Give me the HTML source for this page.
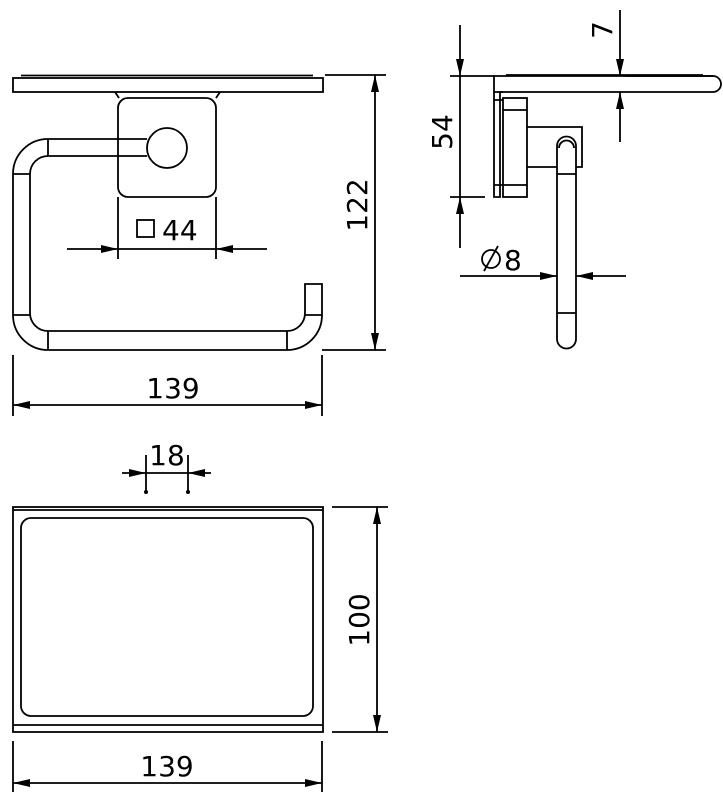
<!DOCTYPE html>
<html><head><meta charset="utf-8"><style>
html,body{margin:0;padding:0;background:#fff;}
svg{display:block;}
text{font-family:"DejaVu Sans","Liberation Sans",sans-serif;font-size:28px;fill:#000;}
</style></head><body>
<svg width="723" height="800" viewBox="0 0 723 800" xmlns="http://www.w3.org/2000/svg">
<defs>
<marker id="a" viewBox="0 0 16 8" refX="16" refY="4" markerWidth="17" markerHeight="8" markerUnits="userSpaceOnUse" orient="auto-start-reverse" preserveAspectRatio="none"><path d="M0,0L16,4L0,8z" fill="#000"/></marker>
</defs>
<g fill="none" stroke="#000" stroke-width="1.8">
<!-- FRONT VIEW -->
<rect x="13" y="78" width="310" height="14"/>
<line x1="21" y1="75.5" x2="313" y2="75.5"/>
<path d="M115,92 L119,98 M220,92 L216,98"/>
<rect x="118" y="98" width="98" height="99" rx="10"/>
<circle cx="167" cy="148" r="20"/>
<path d="M147,139 H48 A35,35 0 0 0 13,174 V315 A35,35 0 0 0 48,350 H287 A35,35 0 0 0 322,315 V284 H305 V313 A18,18 0 0 1 287,331 H48 A18,18 0 0 1 30,313 V174 A18,18 0 0 1 48,156 H147"/>
<path d="M48,139 V156 M13,174 H30 M13,315 H30 M48,331 V350 M287,331 V350 M305,315 H322"/>
<!-- 44 -->
<path d="M118,197 V259 M216,197 V259"/>
<line x1="67" y1="249" x2="118" y2="249" marker-end="url(#a)"/>
<line x1="267" y1="249" x2="216" y2="249" marker-end="url(#a)"/>
<line x1="118" y1="249" x2="216" y2="249"/>
<rect x="137" y="220" width="17" height="17"/>
<!-- 122 -->
<path d="M325,75 H386 M322,350 H386"/>
<line x1="375" y1="75" x2="375" y2="350" marker-start="url(#a)" marker-end="url(#a)"/>
<!-- 139 top -->
<path d="M13,355 V416 M322,355 V416"/>
<line x1="13" y1="405" x2="322" y2="405" marker-start="url(#a)" marker-end="url(#a)"/>

<!-- SIDE VIEW -->
<path d="M494,197 V76 H713 A8,8 0 0 1 713,92 H500 V197 Z"/>
<line x1="506" y1="75" x2="703" y2="75"/>
<path d="M494,92 H503 M494,100 H503 M494,185 H503"/>
<rect x="503" y="98" width="24" height="99"/>
<path d="M503,110 H527 M503,185 H527"/>
<path d="M527,127 H582 V167 H576 M557,167 H527"/>
<path d="M557,174 V146 A9.5,9.5 0 0 1 576,146 V339 A9.5,9.5 0 0 1 557,339 Z"/>
<path d="M559,148 A7.5,7.5 0 0 1 574,148"/>
<path d="M557,174 H576 M557,313 H576"/>
<!-- 7 -->
<line x1="620" y1="10" x2="620" y2="76" marker-end="url(#a)"/>
<line x1="620" y1="142" x2="620" y2="92" marker-end="url(#a)"/>
<path d="M713,76 H625"/>
<!-- 54 -->
<path d="M450,76 H494 M450,197 H485"/>
<line x1="460" y1="25" x2="460" y2="76" marker-end="url(#a)"/>
<line x1="460" y1="248" x2="460" y2="197" marker-end="url(#a)"/>
<line x1="460" y1="76" x2="460" y2="197"/>
<!-- dia 8 -->
<line x1="460" y1="276" x2="557" y2="276" marker-end="url(#a)"/>
<line x1="626" y1="276" x2="576" y2="276" marker-end="url(#a)"/>
<circle cx="491" cy="259" r="9"/>
<line x1="484" y1="271" x2="498" y2="246"/>

<!-- BOTTOM VIEW -->
<rect x="13" y="507" width="310" height="225"/>
<line x1="13" y1="510" x2="323" y2="510"/>
<line x1="13" y1="725" x2="323" y2="725"/>
<rect x="21" y="518" width="292" height="198" rx="10"/>
<!-- 18 -->
<path d="M146,455 V492 M188,455 V492"/>
<line x1="122" y1="473" x2="146" y2="473" marker-end="url(#a)"/>
<line x1="211" y1="473" x2="188" y2="473" marker-end="url(#a)"/>
<line x1="146" y1="473" x2="188" y2="473"/>
<!-- 100 -->
<path d="M332,507 H388 M332,732 H388"/>
<line x1="377" y1="507" x2="377" y2="732" marker-start="url(#a)" marker-end="url(#a)"/>
<!-- 139 bottom -->
<path d="M13,741 V792 M322,741 V792"/>
<line x1="13" y1="783" x2="322" y2="783" marker-start="url(#a)" marker-end="url(#a)"/>
</g>
<circle cx="146" cy="492" r="2" fill="#000"/>
<circle cx="188" cy="492" r="2" fill="#000"/>
<text x="162" y="240">44</text>
<text x="0" y="0" text-anchor="middle" transform="translate(367,205) rotate(-90)">122</text>
<text x="173" y="398" text-anchor="middle">139</text>
<text x="0" y="0" text-anchor="middle" transform="translate(612,30) rotate(-90)">7</text>
<text x="0" y="0" text-anchor="middle" transform="translate(452,132) rotate(-90)">54</text>
<text x="504" y="270">8</text>
<text x="167" y="465" text-anchor="middle">18</text>
<text x="0" y="0" text-anchor="middle" transform="translate(369,620) rotate(-90)">100</text>
<text x="167" y="776" text-anchor="middle">139</text>
</svg>
</body></html>
